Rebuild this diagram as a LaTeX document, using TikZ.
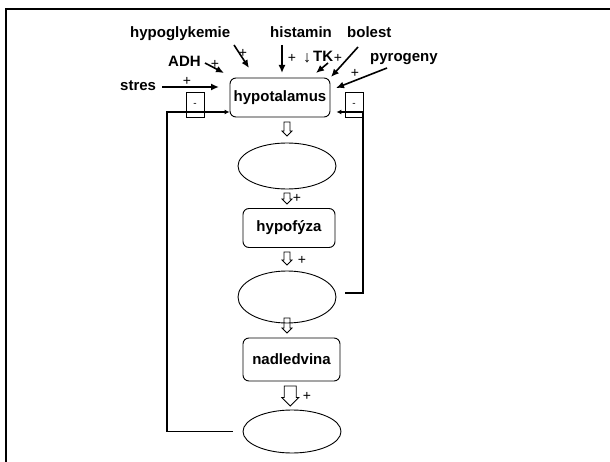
\documentclass[tikz,border=0pt]{standalone}
\usepackage{fontspec}
\setmainfont{Liberation Sans}
\usetikzlibrary{shapes.geometric,arrows.meta}

\tikzset{
  box/.style={draw,line width=0.9pt,rounded corners=6pt,inner sep=0pt,font=\fontsize{15}{18}\selectfont\bfseries},
  oval/.style={draw,line width=0.9pt,ellipse,inner sep=0pt,minimum width=98pt},
  lbl/.style={inner sep=0pt,anchor=base west,font=\fontsize{15}{18}\selectfont\bfseries},
  plus/.style={inner sep=0pt,font=\fontsize{14}{16}\selectfont},
  minusbox/.style={draw,line width=0.8pt,inner sep=0pt,minimum width=18pt,minimum height=25pt,font=\fontsize{10}{12}\selectfont},
  inarr/.style={line width=1.6pt,-{Latex[length=8pt,width=7pt]}},
  fb/.style={line width=1.6pt,-{Latex[length=5pt,width=5pt]}},
  hollow/.style={draw,line width=0.8pt,line join=miter}
}
% duta sipka: x, y (horni okraj), delka, pul drieku, pul hlavy
\newcommand{\dutasipka}[5]{%
  \draw[hollow] (#1-#4,#2) -- (#1+#4,#2) -- (#1+#4,#2+#3-#5) -- (#1+#5,#2+#3-#5)
    -- (#1,#2+#3) -- (#1-#5,#2+#3-#5) -- (#1-#4,#2+#3-#5) -- cycle;}

\begin{document}
\begin{tikzpicture}[x=1pt,y=-1pt]
        \useasboundingbox (0,0) rectangle (610,462);
        \draw[line width=2.4pt] (6,462) -- (6,9) -- (610,9);

        %%%%%%%%%% Uzly %%%%%%%%%%
        \node[box,minimum width=100pt,minimum height=39pt] (hypotal) at (280,97.5) {hypotalamus};
        \node[oval,minimum height=46pt] (ov1) at (287,166) {};
        \node[box,minimum width=92pt,minimum height=39pt] (hypof) at (289,228) {hypofýza};
        \node[oval,minimum height=52pt] (ov2) at (287,297) {};
        \node[box,minimum width=97pt,minimum height=43pt] (nadl) at (291.5,359.5) {nadledvina};
        \node[oval,minimum height=43pt] (ov3) at (292,431.5) {};

        %%%%%%%%%% Podnety %%%%%%%%%%
        \node[lbl] (hypogl) at (130,38) {hypoglykemie};
        \node[lbl] (hist) at (270,38) {histamin};
        \node[lbl] (bolest) at (347,38) {bolest};
        \node[lbl] (adh) at (168,67) {ADH};
        \node[lbl] (tk) at (313,62) {TK};
        \node[lbl] (pyro) at (370,62) {pyrogeny};
        \node[lbl] (stres) at (120,91) {stres};

        \node[plus] (pS) at (187,81) {+};
        \node[plus] (pA) at (215,64) {+};
        \node[plus] (pG) at (243,53) {+};
        \node[plus] (pH) at (292,58) {+};
        \node[plus,font=\fontsize{16}{18}\selectfont] (dolu) at (307,58) {↓};
        \node[plus] (pT) at (338,58) {+};
        \node[plus] (pP) at (355,73) {+};

        %%%%%%%%%% Sipky %%%%%%%%%%
        \coordinate (s0) at (162,87);  \coordinate (s1) at (219,87);
        \coordinate (a0) at (205,63);  \coordinate (a1) at (224,73);
        \coordinate (g0) at (234,45);  \coordinate (g1) at (249,68);
        \coordinate (h0) at (282,45);  \coordinate (h1) at (282,73);
        \coordinate (t0) at (328,63);  \coordinate (t1) at (316,73);
        \coordinate (b0) at (358,47);  \coordinate (b1) at (331,77);
        \coordinate (p0) at (387,68);  \coordinate (p1) at (336,88);
        \draw[inarr] (s0) -- (s1);
        \draw[inarr] (a0) -- (a1);
        \draw[inarr] (g0) -- (g1);
        \draw[inarr] (h0) -- (h1);
        \draw[inarr] (t0) -- (t1);
        \draw[inarr] (b0) -- (b1);
        \draw[inarr] (p0) -- (p1);

        %%%%%%%%%% Zpetna vazba %%%%%%%%%%
        \coordinate (lk) at (167,112);
        \coordinate (rk) at (363,112);
        \draw[fb,shorten <=10pt] (ov3.west) -| (lk) -- (lk -| hypotal.west);
        \draw[fb,shorten <=9pt,shorten >=6pt] ([yshift=4pt]ov2.east) -| (rk) -- (rk -| hypotal.east);
        \node[minusbox] (mL) at (195,104.5) {-};
        \node[minusbox] (mR) at (354,104.5) {-};

        %%%%%%%%%% Dute sipky %%%%%%%%%%
        \dutasipka{287}{122}{14}{3}{5}
        \dutasipka{287}{193}{11}{3}{5}
        \node[plus] (p2) at (297,198) {+};
        \dutasipka{287}{252}{13}{3}{5}
        \node[plus] (p3) at (302,260) {+};
        \dutasipka{287}{318}{15}{3}{5}
        \dutasipka{290.3}{386}{20}{6}{8.5}
        \node[plus] (p5) at (307,396) {+};
\end{tikzpicture}
\end{document}
